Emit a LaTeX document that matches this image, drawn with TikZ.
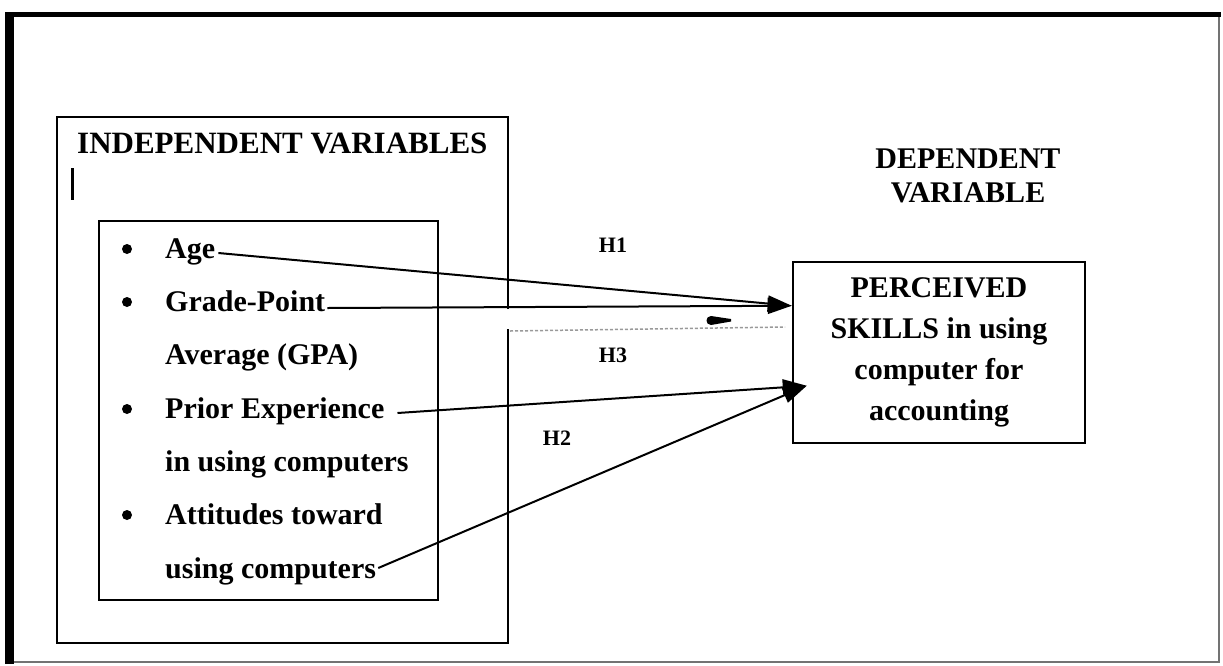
\documentclass[tikz,border=0pt]{standalone}
\usepackage{fontspec}
\setmainfont{Liberation Serif}
\usetikzlibrary{arrows.meta,calc}
\begin{document}
\begin{tikzpicture}[x=1pt,y=-1pt,
  txt/.style={inner sep=0pt, anchor=base west, font=\fontsize{30}{36}\selectfont\bfseries},
  ctxt/.style={inner sep=0pt, anchor=base, font=\fontsize{30}{36}\selectfont\bfseries},
  hlab/.style={inner sep=0pt, font=\fontsize{22}{24}\selectfont\bfseries},
  bul/.style={circle, fill=black, inner sep=0pt, minimum width=9pt, minimum height=10pt},
  boxline/.style={line width=2pt},
  conn/.style={line width=2pt, -{Triangle[length=24pt,width=16pt]}},
  depbox/.style={draw, line width=2.5pt, align=center, inner sep=0pt,
    minimum width=292pt, minimum height=181pt,
    font=\fontsize{30}{41}\selectfont\bfseries}]
\useasboundingbox (0,0) rectangle (1223,665);
\fill[white] (0,0) rectangle (1223,665);
% outer frame
\draw[line width=2.5pt, black!55] (1219,14) -- (1219,662) -- (9,662);
\draw[line width=5pt] (5,14) -- (1221,14);
\draw[line width=9pt] (9,12) -- (9,664);
% independent variables box
\draw[boxline] (508,309) -- (508,117) -- (57,117) -- (57,643) -- (508,643) -- (508,329);
\node[txt, font=\fontsize{31}{36}\selectfont\bfseries] (indtitle) at (77,153) {INDEPENDENT VARIABLES};
\draw[line width=3pt] (72,168) -- (72,200);
% inner list box
\draw[boxline] (99,221) rectangle (438,600);
\node[bul] (b1) at (127,249) {};
\node[bul] (b2) at (127,302) {};
\node[bul] (b3) at (127,409) {};
\node[bul] (b4) at (127,515) {};
\node[txt] (age) at (165,258) {Age};
\node[txt] (gp) at (165,311) {Grade-Point};
\node[txt] (gpa) at (165,364) {Average (GPA)};
\node[txt] (prior) at (165,418) {Prior Experience};
\node[txt] (prior2) at (165,471) {in using computers};
\node[txt] (att) at (165,524) {Attitudes toward};
\node[txt] (att2) at (165,578) {using computers};
% dependent variable
\node[ctxt] (dv1) at (968,168) {DEPENDENT};
\node[ctxt] (dv2) at (968,202) {VARIABLE};
\node[depbox] (dep) at (939,352.5) {PERCEIVED\\SKILLS in using\\computer for\\accounting};
\coordinate (t1) at ($(dep.north west)+(0,45)$);
\coordinate (t2) at ($(dep.north west)+(15,125)$);
% faint line
\draw[black!40, line width=1.5pt, dash pattern=on 3pt off 2pt] (510,331) -- (785,327);
\fill (711,316) -- (731,319) -- (731,321.5) -- (711,325) .. controls (705,325) and (705,316) .. (711,316);
% connectors
\draw[conn] ($(age.base east)+(3,-5)$) -- (t1);
\draw[conn] ($(gp.base east)+(2,-3)$) -- (t1);
\draw[conn] ($(prior.base east)+(13,-5)$) -- (t2);
\draw[conn] ($(att2.base east)+(2,-10)$) -- (t2);
% hypothesis labels
\node[hlab] (h1) at (613,245) {H1};
\node[hlab] (h3) at (613,355) {H3};
\node[hlab] (h2) at (557,438) {H2};
\end{tikzpicture}
\end{document}
